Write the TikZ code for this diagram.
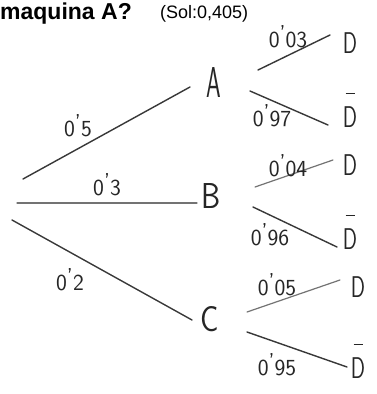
\documentclass[tikz,border=0pt]{standalone}
\usepackage{fontspec}
\setmainfont{Liberation Sans}
\newcommand\hap{\raisebox{6pt}{'}}
\begin{document}
\begin{tikzpicture}[x=1pt,y=-1pt,
  branch/.style={line width=1.4pt, draw=black!78, line cap=round},
  light/.style={line width=1.2pt, draw=black!55, line cap=round},
  prob/.style={font=\fontsize{23}{23}\selectfont\sffamily, text=black!85, inner sep=0pt, anchor=base},
  ev/.style={font=\fontsize{36}{36}\selectfont\sffamily, text=black!85, inner sep=0pt},
  res/.style={font=\fontsize{30}{30}\selectfont\sffamily, text=black!85, inner sep=0pt, align=center}]
\useasboundingbox (0,0) rectangle (376,394);
\fill[white] (0,0) rectangle (376,394);
% heading
\node[anchor=base west, inner sep=0pt, font=\bfseries\fontsize{23}{23}\selectfont] (title) at (0,19) {maquina A?};
\node[anchor=base west, inner sep=0pt, font=\fontsize{18}{18}\selectfont] (sol) at (160,18) {(Sol:0,405)};
% first level events
\node[ev] (A) at (214,83) {\scalebox{0.65}[1.2]{A}};
\node[ev] (B) at (211,196) {\scalebox{0.85}[1]{B}};
\node[ev] (C) at (210,319) {\scalebox{0.85}[1]{C}};
% results
\node[res] (AD) at (350,43) {\scalebox{0.7}[1]{D}};
\node[res] (ADn) at (350,110) {\rule{9pt}{1.6pt}\\[3pt]\scalebox{0.7}[1]{D}};
\node[res] (BD) at (350,165) {\scalebox{0.7}[1]{D}};
\node[res] (BDn) at (350,232) {\rule{9pt}{1.6pt}\\[3pt]\scalebox{0.7}[1]{D}};
\node[res] (CD) at (358,287) {\scalebox{0.7}[1]{D}};
\node[res] (CDn) at (358,361) {\rule{9pt}{1.6pt}\\[3pt]\scalebox{0.7}[1]{D}};
% connector end points
\coordinate (rA) at (23,179);
\coordinate (rB) at (17,203);
\coordinate (rC) at (12,220);
\coordinate (Ain) at (190,87);
\coordinate (Bin) at (197,203);
\coordinate (Cin) at (192,320);
\coordinate (Aup) at (258,70);   \coordinate (ADin) at (330,35);
\coordinate (Adn) at (250,91);   \coordinate (ADnin) at (328,125);
\coordinate (Bup) at (255,187);  \coordinate (BDin) at (333,160);
\coordinate (Bdn) at (253,207);  \coordinate (BDnin) at (337,247);
\coordinate (Cup) at (247,312);  \coordinate (CDin) at (340,280);
\coordinate (Cdn) at (247,332);  \coordinate (CDnin) at (347,367);
% branches
\draw[branch] (rA) -- (Ain);
\draw[light] (rB) -- (Bin);
\draw[branch] (rC) -- (Cin);
\draw[branch] (Aup) -- (ADin);
\draw[branch] (Adn) -- (ADnin);
\draw[light] (Bup) -- (BDin);
\draw[branch] (Bdn) -- (BDnin);
\draw[light] (Cup) -- (CDin);
\draw[branch] (Cdn) -- (CDnin);
% probabilities
\node[prob] (p5) at (78,136) {0\hap5};
\node[prob] (p3) at (107,195) {0\hap3};
\node[prob] (p2) at (70,290) {0\hap2};
\node[prob] (p03) at (288,47) {0\hap03};
\node[prob] (p97) at (272,126) {0\hap97};
\node[prob] (p04) at (288,176) {0\hap04};
\node[prob] (p96) at (270,245) {0\hap96};
\node[prob] (p05) at (277,295) {0\hap05};
\node[prob] (p95) at (277,375) {0\hap95};
\end{tikzpicture}
\end{document}
